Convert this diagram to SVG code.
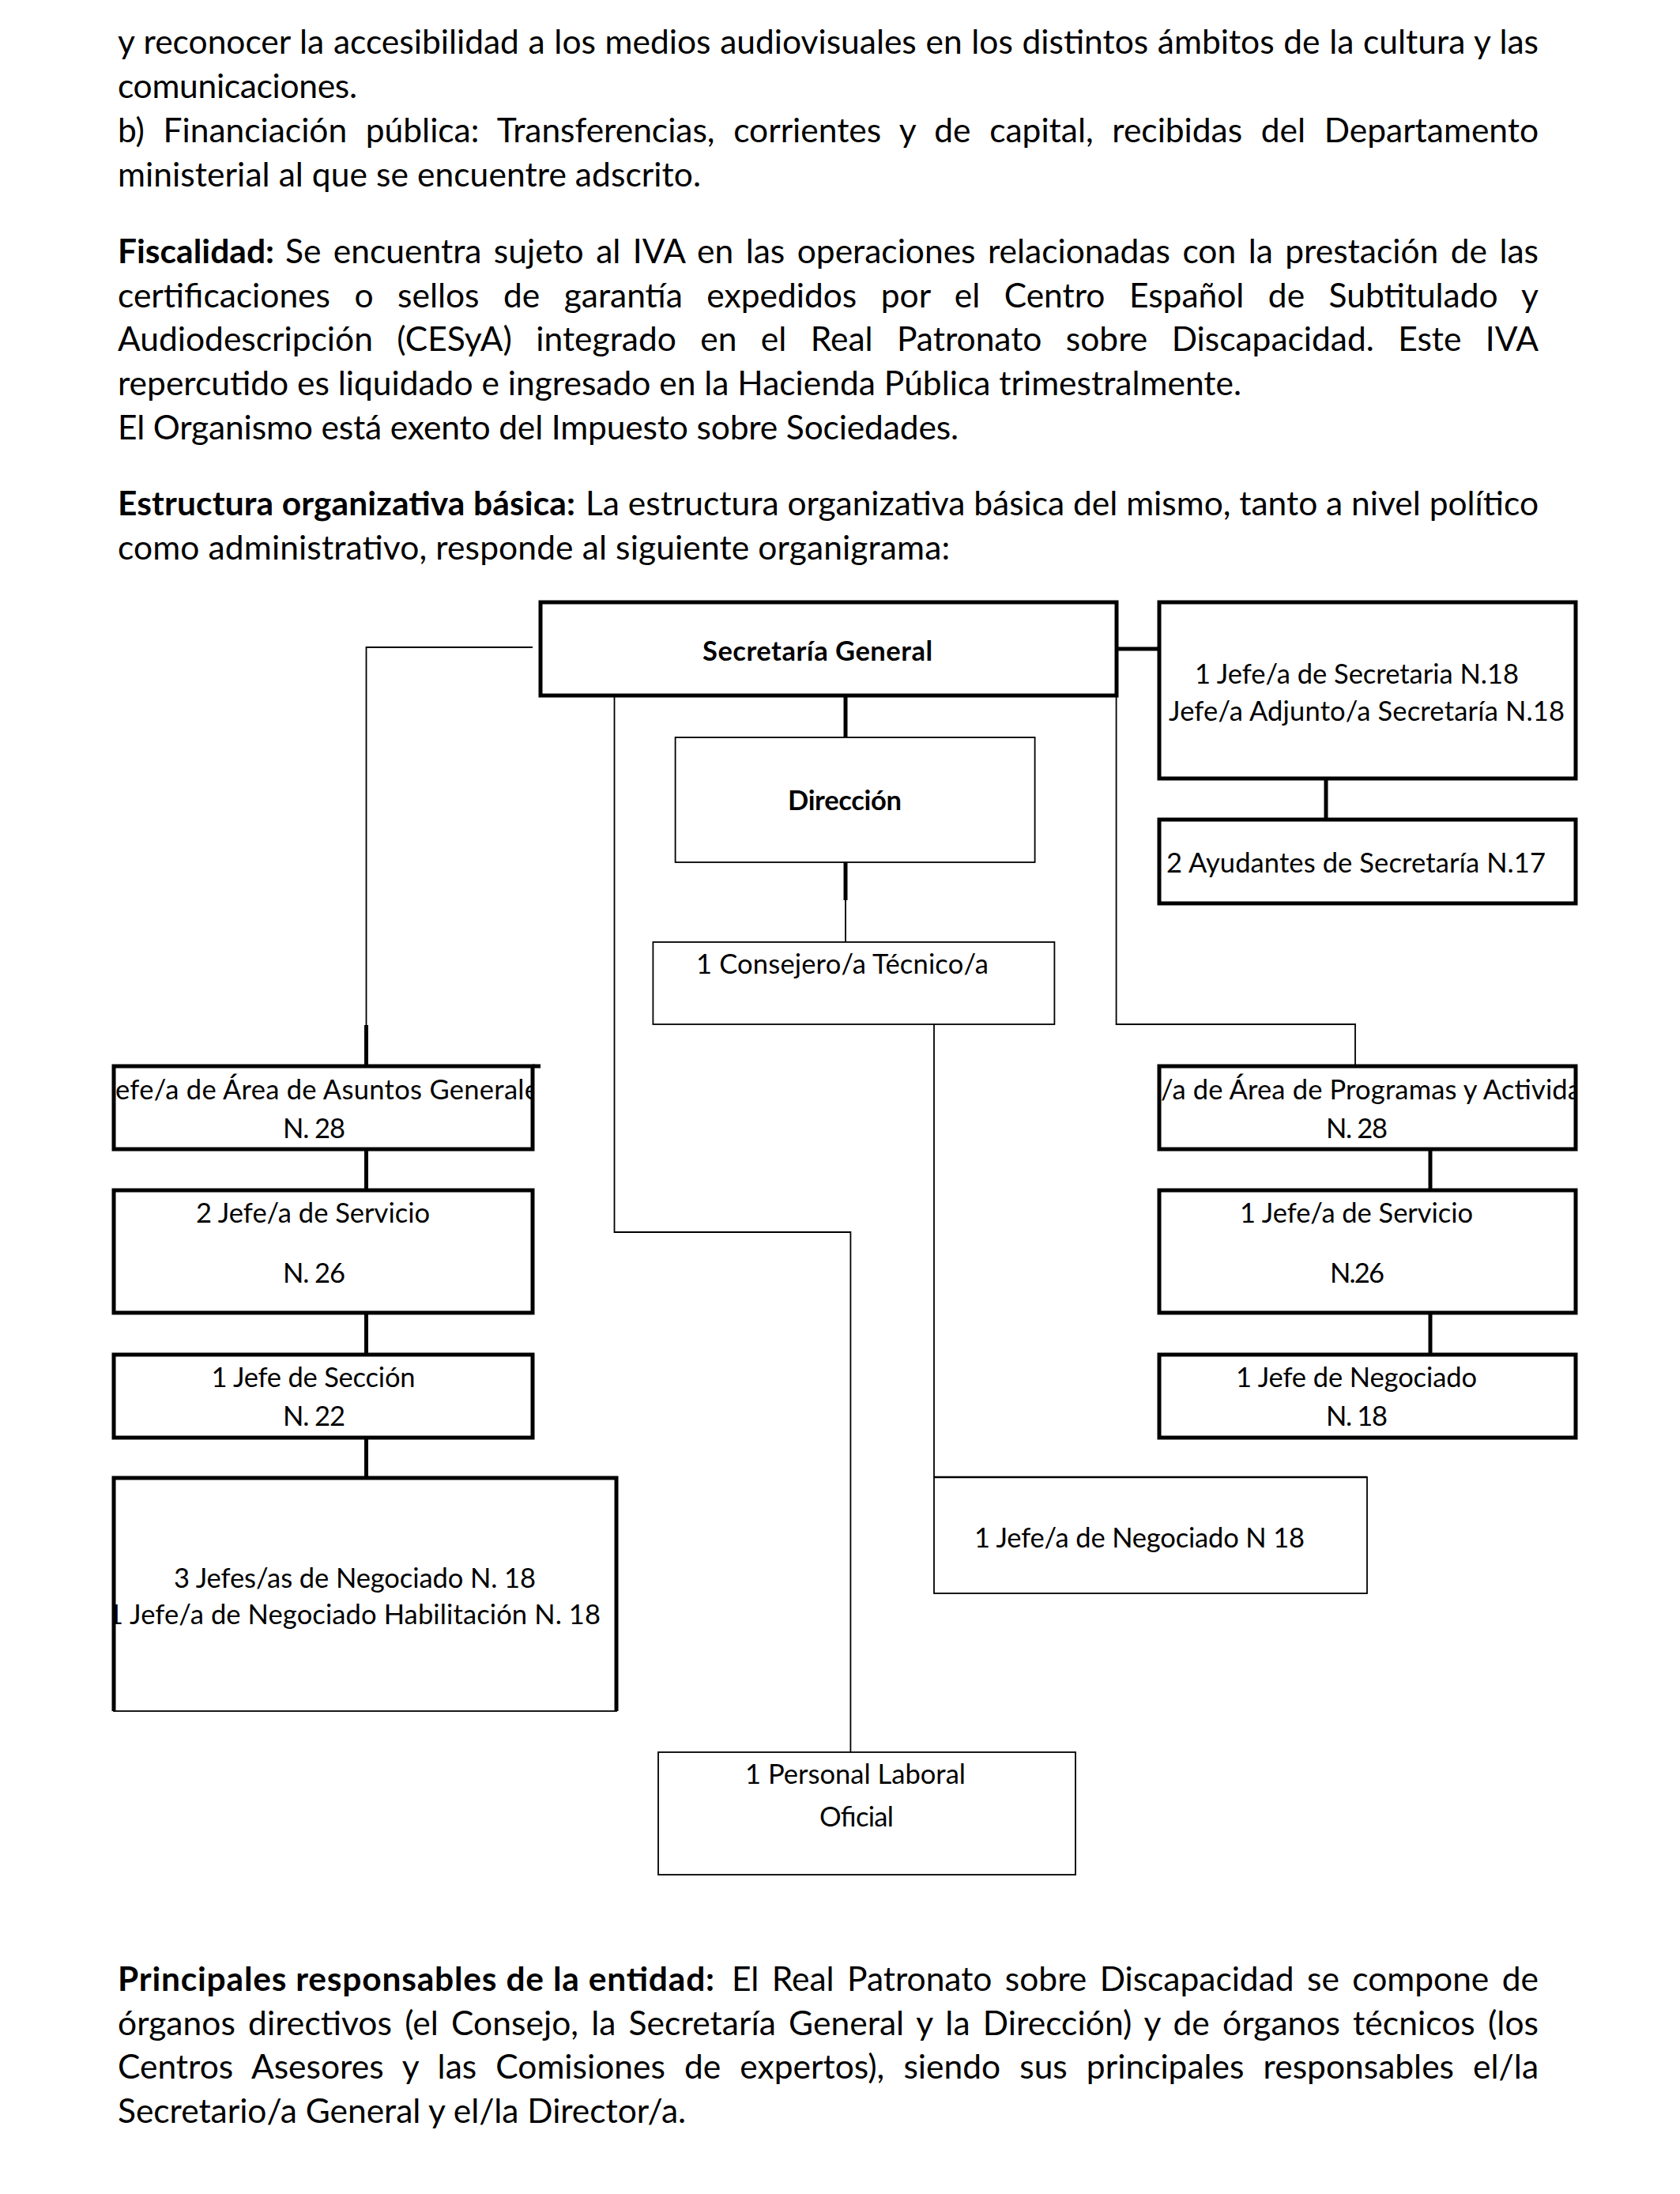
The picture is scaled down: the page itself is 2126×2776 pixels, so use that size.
<svg xmlns="http://www.w3.org/2000/svg" width="2126" height="2776" viewBox="0 0 2126 2776">
<style>
text{font-family:Lato,"Liberation Sans",sans-serif;fill:#000}
.p{font-size:42.5px}
.b{font-weight:bold}
.l{font-size:34.5px}
.thick{stroke:#000;stroke-width:5;fill:none}
.thin{stroke:#000;stroke-width:1.8;fill:none}
.bx{fill:#fff}
</style>
<defs>
<clipPath id="cA"><rect x="146" y="1351" width="526" height="102"/></clipPath>
<clipPath id="cB"><rect x="1469" y="1351" width="523" height="102"/></clipPath>
<clipPath id="cC"><rect x="146" y="1872" width="632" height="292"/></clipPath>
</defs>
<rect width="2126" height="2776" fill="#fff"/>
<g id="texto">
<text class="p" x="149" y="68" word-spacing="0.8" textLength="1798" lengthAdjust="spacing">y reconocer la accesibilidad a los medios audiovisuales en los distintos ámbitos de la cultura y las</text>
<text class="p" x="149" y="124" textLength="303" lengthAdjust="spacing">comunicaciones.</text>
<text class="p" x="149" y="180" word-spacing="12.8" textLength="1798" lengthAdjust="spacing">b) Financiación pública: Transferencias, corrientes y de capital, recibidas del Departamento</text>
<text class="p" x="149" y="236" textLength="738" lengthAdjust="spacing">ministerial al que se encuentre adscrito.</text>
<text class="p b" x="149" y="333" textLength="198" lengthAdjust="spacing">Fiscalidad:</text>
<text class="p" x="361" y="333" word-spacing="4.6" textLength="1586" lengthAdjust="spacing">Se encuentra sujeto al IVA en las operaciones relacionadas con la prestación de las</text>
<text class="p" x="149" y="389" word-spacing="19.6" textLength="1798" lengthAdjust="spacing">certificaciones o sellos de garantía expedidos por el Centro Español de Subtitulado y</text>
<text class="p" x="149" y="444" word-spacing="19.5" textLength="1798" lengthAdjust="spacing">Audiodescripción (CESyA) integrado en el Real Patronato sobre Discapacidad. Este IVA</text>
<text class="p" x="149" y="500" textLength="1422" lengthAdjust="spacing">repercutido es liquidado e ingresado en la Hacienda Pública trimestralmente.</text>
<text class="p" x="149" y="556" textLength="1064" lengthAdjust="spacing">El Organismo está exento del Impuesto sobre Sociedades.</text>
<text class="p b" x="149" y="652" textLength="579" lengthAdjust="spacing">Estructura organizativa básica:</text>
<text class="p" x="741" y="652" textLength="1206" lengthAdjust="spacing">La estructura organizativa básica del mismo, tanto a nivel político</text>
<text class="p" x="149" y="708" textLength="1053" lengthAdjust="spacing">como administrativo, responde al siguiente organigrama:</text>
<text class="p b" x="149" y="2519" textLength="755" lengthAdjust="spacing">Principales responsables de la entidad:</text>
<text class="p" x="926" y="2519" word-spacing="5.6" textLength="1021" lengthAdjust="spacing">El Real Patronato sobre Discapacidad se compone de</text>
<text class="p" x="149" y="2575" word-spacing="5.2" textLength="1798" lengthAdjust="spacing">órganos directivos (el Consejo, la Secretaría General y la Dirección) y de órganos técnicos (los</text>
<text class="p" x="149" y="2630" word-spacing="13.2" textLength="1798" lengthAdjust="spacing">Centros Asesores y las Comisiones de expertos), siendo sus principales responsables el/la</text>
<text class="p" x="149" y="2686" textLength="719" lengthAdjust="spacing">Secretario/a General y el/la Director/a.</text>
</g>
<g id="conectores">
<polyline class="thin" points="674,819 463.5,819 463.5,1297"/>
<line class="thick" x1="463.5" y1="1297" x2="463.5" y2="1349"/>
<line class="thick" x1="1070" y1="880" x2="1070" y2="933"/>
<line class="thick" x1="1070" y1="1091" x2="1070" y2="1139"/>
<line class="thin" x1="1070" y1="1139" x2="1070" y2="1192"/>
<line class="thick" x1="1413" y1="821" x2="1467" y2="821"/>
<line class="thick" x1="1678" y1="985" x2="1678" y2="1037"/>
<polyline class="thin" points="1412.6,880 1412.6,1296 1715,1296 1715,1349"/>
<polyline class="thin" points="777.5,880 777.5,1559 1076.4,1559 1076.4,2217"/>
<line class="thin" x1="1182" y1="1296" x2="1182" y2="1869"/>
<line class="thick" x1="463.5" y1="1454" x2="463.5" y2="1506"/>
<line class="thick" x1="463.5" y1="1661" x2="463.5" y2="1714"/>
<line class="thick" x1="463.5" y1="1819" x2="463.5" y2="1870"/>
<line class="thick" x1="1810" y1="1454" x2="1810" y2="1506"/>
<line class="thick" x1="1810" y1="1661" x2="1810" y2="1714"/>
</g>
<g id="secretaria-general">
<rect class="thick bx" x="684" y="762" width="729" height="118"/>
<text class="l b" x="889" y="836" textLength="291" lengthAdjust="spacing">Secretaría General</text>
</g>
<g id="direccion">
<rect class="thin bx" x="854.6" y="933" width="455" height="158"/>
<text class="l b" x="997" y="1025" textLength="144" lengthAdjust="spacing">Dirección</text>
</g>
<g id="consejero">
<rect class="thin bx" x="826.4" y="1192" width="508" height="104"/>
<text class="l" x="881" y="1232" textLength="370" lengthAdjust="spacing">1 Consejero/a Técnico/a</text>
</g>
<g id="jefe-secretaria">
<rect class="thick bx" x="1467" y="762" width="527" height="223"/>
<text class="l" x="1512" y="865" textLength="410" lengthAdjust="spacing">1 Jefe/a de Secretaria N.18</text>
<text class="l" x="1479" y="912" textLength="501" lengthAdjust="spacing">Jefe/a Adjunto/a Secretaría N.18</text>
</g>
<g id="ayudantes">
<rect class="thick bx" x="1467" y="1037" width="527" height="106"/>
<text class="l" x="1476" y="1104" textLength="480" lengthAdjust="spacing">2 Ayudantes de Secretaría N.17</text>
</g>
<g id="area-asuntos-generales">
<rect class="thick bx" x="144" y="1349" width="530" height="105"/>
<line class="thick" x1="674" y1="1349" x2="684" y2="1349"/>
<text class="l" x="146" y="1391" textLength="536" lengthAdjust="spacing" clip-path="url(#cA)">efe/a de Área de Asuntos Generale</text>
<text class="l" x="358" y="1440" textLength="79" lengthAdjust="spacing">N. 28</text>
</g>
<g id="area-programas">
<rect class="thick bx" x="1467" y="1349" width="527" height="105"/>
<text class="l" x="1469" y="1391" textLength="532" lengthAdjust="spacing" clip-path="url(#cB)">/a de Área de Programas y Activida</text>
<text class="l" x="1678" y="1440" textLength="78" lengthAdjust="spacing">N. 28</text>
</g>
<g id="servicio-izq">
<rect class="thick bx" x="144" y="1506" width="530" height="155"/>
<text class="l" x="248" y="1547" textLength="296" lengthAdjust="spacing">2 Jefe/a de Servicio</text>
<text class="l" x="358" y="1623" textLength="79" lengthAdjust="spacing">N. 26</text>
</g>
<g id="seccion">
<rect class="thick bx" x="144" y="1714" width="530" height="105"/>
<text class="l" x="267.5" y="1755" textLength="258" lengthAdjust="spacing">1 Jefe de Sección</text>
<text class="l" x="358" y="1804" textLength="79" lengthAdjust="spacing">N. 22</text>
</g>
<g id="negociado-izq">
<rect class="thin bx" x="144" y="1870" width="636" height="295"/>
<polyline class="thick" points="144,2165 144,1870 780,1870 780,2165"/>
<text class="l" x="220" y="2009" textLength="458" lengthAdjust="spacing">3 Jefes/as de Negociado N. 18</text>
<text class="l" x="136" y="2055" textLength="624" lengthAdjust="spacing" clip-path="url(#cC)">1 Jefe/a de Negociado Habilitación N. 18</text>
</g>
<g id="servicio-der">
<rect class="thick bx" x="1467" y="1506" width="527" height="155"/>
<text class="l" x="1569" y="1547" textLength="295" lengthAdjust="spacing">1 Jefe/a de Servicio</text>
<text class="l" x="1683" y="1623" textLength="69" lengthAdjust="spacing">N.26</text>
</g>
<g id="negociado-der">
<rect class="thick bx" x="1467" y="1714" width="527" height="105"/>
<text class="l" x="1564" y="1755" textLength="305" lengthAdjust="spacing">1 Jefe de Negociado</text>
<text class="l" x="1678" y="1804" textLength="78" lengthAdjust="spacing">N. 18</text>
</g>
<g id="negociado-centro">
<rect class="thin bx" x="1182" y="1869" width="548" height="147"/>
<line x1="1182" y1="1869" x2="1730" y2="1869" stroke="#000" stroke-width="2.6"/>
<text class="l" x="1233" y="1958" textLength="418" lengthAdjust="spacing">1 Jefe/a de Negociado N 18</text>
</g>
<g id="personal-laboral">
<rect class="thin bx" x="833" y="2217" width="528" height="155"/>
<text class="l" x="943" y="2257" textLength="279" lengthAdjust="spacing">1 Personal Laboral</text>
<text class="l" x="1037" y="2311" textLength="94" lengthAdjust="spacing">Oficial</text>
</g>
</svg>
